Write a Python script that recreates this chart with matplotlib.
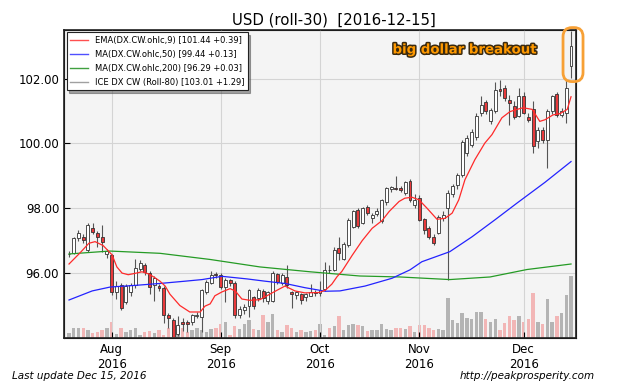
import numpy as np
import pandas as pd
import matplotlib
matplotlib.use("Agg")
import matplotlib.pyplot as plt
from matplotlib import patheffects
from matplotlib.patches import FancyBboxPatch
from matplotlib.lines import Line2D
from matplotlib.transforms import IdentityTransform

# trading days shown (Labor Day missing, Thanksgiving traded)
dates = pd.bdate_range("2016-07-19", "2016-12-15")
dates = dates[dates != pd.Timestamp("2016-09-05")]

opens = [96.58, 96.62, 97.08, 97.11, 96.70, 97.40, 97.25, 97.12, 96.58, 96.56,
         95.42, 95.63, 95.10, 95.42, 95.63, 96.12, 96.25, 96.00, 95.63, 95.60,
         95.53, 94.70, 94.55, 94.11, 94.48, 94.48, 94.49, 94.69, 94.65, 95.42,
         95.70, 95.98, 95.94, 95.58, 95.78, 95.68, 94.72, 94.86, 94.98, 95.25,
         95.22, 95.45, 95.14, 95.14, 95.96, 95.70, 95.89, 95.42, 95.32, 95.34,
         95.25, 95.30, 95.42, 95.38, 95.50, 96.10, 96.09, 96.76, 96.43, 96.87,
         97.43, 97.95, 97.55, 98.05, 97.70, 97.82, 97.60, 98.20, 98.58, 98.62,
         98.62, 98.47, 98.85, 98.10, 98.31, 97.66, 97.38, 97.12, 97.25, 97.69,
         98.00, 98.44, 98.72, 99.03, 99.70, 99.96, 100.20, 100.94, 101.27, 100.70,
         100.99, 101.68, 101.71, 101.33, 101.14, 100.85, 101.45, 100.82, 101.06, 100.06,
         100.42, 100.09, 100.99, 101.53, 100.89, 100.94, 102.38]
highs = [96.68, 97.12, 97.33, 97.20, 97.55, 97.56, 97.30, 97.48, 96.75, 96.60,
         95.75, 95.70, 95.65, 95.70, 96.42, 96.40, 96.30, 96.05, 95.90, 95.65,
         95.60, 94.78, 94.60, 94.67, 94.62, 94.55, 94.75, 94.80, 95.50, 95.80,
         96.05, 96.02, 96.00, 95.85, 95.82, 95.75, 95.00, 95.05, 95.50, 95.30,
         95.55, 95.50, 95.45, 96.05, 96.00, 96.00, 96.25, 95.45, 95.45, 95.38,
         95.40, 95.65, 95.48, 95.76, 96.33, 96.25, 96.80, 97.12, 96.95, 97.70,
         97.95, 98.00, 98.05, 98.10, 97.85, 98.00, 98.30, 98.65, 98.70, 98.98,
         98.70, 98.85, 98.90, 98.45, 98.40, 97.70, 97.45, 97.20, 97.80, 97.90,
         98.57, 98.75, 99.10, 100.10, 100.25, 100.45, 100.95, 101.45, 101.35, 101.10,
         101.90, 101.97, 101.80, 101.50, 101.30, 101.71, 101.60, 100.95, 101.30, 100.52,
         100.50, 101.05, 101.50, 101.58, 101.10, 101.97, 103.46]
lows = [96.50, 96.58, 96.99, 96.93, 96.65, 97.20, 96.81, 96.66, 96.45, 95.32,
        95.20, 94.86, 95.05, 95.30, 95.55, 96.05, 95.94, 95.35, 95.15, 95.45,
        94.45, 94.30, 94.00, 94.05, 94.20, 94.18, 94.40, 94.60, 94.18, 95.35,
        95.65, 95.85, 95.50, 95.11, 95.60, 94.60, 94.60, 94.75, 94.65, 94.90,
        95.15, 95.10, 95.05, 95.10, 95.65, 95.62, 95.55, 94.92, 95.20, 95.05,
        95.15, 95.28, 95.30, 95.30, 95.45, 96.00, 96.05, 96.40, 96.40, 96.80,
        97.40, 97.40, 97.50, 97.80, 97.55, 97.75, 97.55, 98.10, 98.50, 98.55,
        98.50, 98.40, 98.20, 98.00, 97.60, 97.20, 97.05, 96.86, 97.20, 97.60,
        95.78, 98.35, 98.60, 98.95, 99.60, 99.90, 100.10, 100.85, 100.90, 100.60,
        100.95, 101.45, 101.30, 100.58, 100.75, 100.80, 100.90, 100.65, 99.70, 99.85,
        100.00, 99.24, 100.90, 100.80, 100.80, 100.64, 102.02]
closes = [96.60, 97.08, 97.24, 97.02, 97.48, 97.26, 97.10, 96.97, 96.68, 95.42,
          95.60, 94.91, 95.60, 95.63, 96.15, 96.30, 96.04, 95.56, 95.84, 95.53,
          94.70, 94.60, 94.03, 94.39, 94.42, 94.42, 94.70, 94.72, 95.47, 95.72,
          95.95, 95.95, 95.58, 95.78, 95.68, 94.70, 94.88, 94.96, 95.47, 94.98,
          95.49, 95.22, 95.42, 96.01, 95.71, 95.93, 95.63, 95.35, 95.42, 95.16,
          95.34, 95.42, 95.38, 95.47, 96.09, 96.08, 96.71, 96.61, 96.90, 97.64,
          97.90, 97.45, 98.00, 97.85, 97.80, 97.90, 98.26, 98.62, 98.65, 98.58,
          98.55, 98.80, 98.26, 98.26, 97.64, 97.33, 97.12, 96.94, 97.74, 97.79,
          98.47, 98.69, 99.03, 100.03, 100.17, 100.34, 100.86, 101.20, 100.99, 101.04,
          101.64, 101.61, 101.40, 101.25, 100.83, 101.45, 100.94, 100.73, 99.93, 100.42,
          100.09, 100.99, 101.45, 100.89, 101.00, 101.72, 103.01]
volume = [5, 10.3, 10.3, 10, 7.7, 5, 6, 8.3, 10.3, 16,
          4.3, 9.7, 6, 7.7, 10.3, 2.7, 6, 7, 5, 8.3,
          2.7, 10.3, 16, 9.3, 10.3, 6, 7.7, 10.3, 7.7, 6,
          9.3, 10.3, 14, 16, 2.7, 11.7, 9.3, 14, 17.7, 9.3,
          7.7, 22.7, 16, 23.7, 8.3, 6, 12.7, 10.3, 6, 8.3,
          6, 7, 7.7, 14, 2.7, 10.3, 11.7, 21.7, 7.7, 12.7,
          14.3, 12.7, 11.7, 7, 8.3, 8.3, 14.3, 9.3, 7.7, 10.3,
          10.3, 9.3, 11.7, 6, 12.7, 12.7, 10.3, 8.3, 9.3, 8.3,
          40, 18.3, 15, 25, 20, 19.3, 26, 26, 18.7, 16,
          19.3, 7.7, 15, 21.7, 18.3, 21.7, 16, 19.3, 45, 16,
          13.7, 39.3, 16, 21.7, 25, 42.7, 61.7]

# indicator lines (bar index, value)
ema_idx = [0, 2.3, 4.2, 5.5, 7.2, 9.1, 10.1, 11.2, 12.5, 13.9, 15.4, 16.9, 18.2, 19.2,
           20.3, 21.3, 23.4, 25.5, 27.7, 28.7, 29.8, 30.8, 32.3, 34.0, 35.1, 36.5,
           38.2, 40.3, 42.4, 44.3, 45.6, 47.7, 49.8, 52.8, 54.1, 55.5, 56.6, 57.6,
           59.8, 61.9, 64.0, 66.1, 67.6, 69.7, 70.9, 72.4, 73.9, 75.6, 77.7, 79.4,
           80.9, 82.3, 83.6, 85.7, 87.8, 89.3, 91.4, 93.1, 94.6, 95.9, 97.8, 99.4,
           100.5, 102.2, 103.7, 105.2, 106]
ema_val = [96.28, 96.62, 96.92, 96.97, 96.85, 96.56, 96.19, 96.00, 95.95, 95.99, 96.04,
           95.97, 95.85, 95.75, 95.60, 95.35, 95.00, 94.80, 94.80, 94.98, 95.05, 95.30,
           95.42, 95.52, 95.45, 95.20, 95.16, 95.18, 95.35, 95.50, 95.60, 95.45, 95.39,
           95.40, 95.47, 95.66, 95.89, 96.05, 96.55, 97.00, 97.38, 97.62, 97.90, 98.21,
           98.31, 98.34, 98.26, 98.00, 97.66, 97.69, 97.85, 98.26, 98.88, 99.50, 100.01,
           100.27, 100.79, 100.98, 101.05, 101.10, 101.05, 100.68, 100.73, 100.88,
           100.92, 101.05, 101.44]
ma50_idx = [0, 4.9, 8.7, 13.9, 19.2, 24.5, 28.1, 32.3, 37.6, 41.4, 45.6, 49.8, 54.1,
            57.2, 62.5, 68.2, 72.0, 74.5, 80.4, 85.1, 90.0, 94.6, 100.5, 106]
ma50_val = [95.17, 95.45, 95.57, 95.62, 95.68, 95.75, 95.80, 95.90, 95.82, 95.75, 95.68,
            95.55, 95.44, 95.45, 95.60, 95.84, 96.10, 96.35, 96.66, 97.12, 97.65, 98.16,
            98.80, 99.44]
ma200_idx = [0, 8.6, 19.2, 29.8, 40.3, 50.9, 61.4, 69.9, 80.4, 88.9, 96.7, 106]
ma200_val = [96.59, 96.68, 96.61, 96.42, 96.19, 96.04, 95.91, 95.88, 95.80, 95.88,
             96.11, 96.28]

legend_labels = ["EMA(DX.CW.ohlc,9) [101.44 +0.39]",
                 "MA(DX.CW.ohlc,50) [99.44 +0.13]",
                 "MA(DX.CW.ohlc,200) [96.29 +0.03]",
                 "ICE DX CW (Roll-80) [103.01 +1.29]"]

o = np.array(opens)
h = np.array(highs)
l = np.array(lows)
c = np.array(closes)
x = np.arange(len(dates))
up = c >= o

fig = plt.figure(figsize=(6.4, 3.84), dpi=100)
ax = fig.add_axes([0.1, 0.12, 0.8, 0.802])
vol = ax.twinx()
ax.set_zorder(2)
vol.set_zorder(1)
ax.patch.set_visible(False)
vol.patch.set_visible(True)
vol.patch.set_facecolor("#f4f4f4")

# volume at the bottom
vol.bar(x, volume, width=0.72, color=np.where(up, "#b4b4b4", "#f2b6b6"), lw=0)
vol.set_ylim(0, max(volume) * 5)
vol.set_yticks([])

ax.grid(True, color="#d4d4d4", lw=0.8)
ax.set_axisbelow(True)

# candles
ax.vlines(x, l, h, color="#555555", lw=0.8, zorder=3)
body_h = np.maximum(np.abs(c - o), 0.02)
ax.bar(x, body_h, bottom=np.minimum(o, c), width=0.62,
       color=np.where(up, "white", "#e8393b"), edgecolor="#333333", lw=0.6, zorder=4)

ax.plot(ma200_idx, ma200_val, color="#259b25", lw=0.9, zorder=5)
ax.plot(ma50_idx, ma50_val, color="#2323ff", lw=0.9, zorder=5)
ax.plot(ema_idx, ema_val, color="#ff2a2a", lw=0.9, zorder=5)

ax.set_xlim(-1.06, 107.05)
ax.set_ylim(94.0, 103.5)
ax.set_yticks([96, 98, 100, 102])
ax.yaxis.set_major_formatter(plt.FormatStrFormatter("%.2f"))

month_pos = [i for i in range(1, len(dates)) if dates[i].month != dates[i - 1].month]
ax.set_xticks(month_pos)
ax.set_xticklabels([dates[i].strftime("%b\n%Y") for i in month_pos])
ax.tick_params(labelsize=8.5, direction="in", length=4)
for sp in ax.spines.values():
    sp.set_linewidth(1.2)
    sp.set_color("#222222")

ax.set_title("USD (roll-30)  [2016-12-15]", fontsize=10.7, pad=4, x=0.527)

handles = [Line2D([], [], color="#ff5050", lw=1),
           Line2D([], [], color="#5050ff", lw=1),
           Line2D([], [], color="#40a040", lw=1),
           Line2D([], [], color="#a0a0a0", lw=1)]
leg = ax.legend(handles, legend_labels, loc="upper left", fontsize=6,
                fancybox=False, shadow=True, borderaxespad=0.3,
                handlelength=2.2, labelspacing=0.6)
leg.get_frame().set_edgecolor("#222222")
leg.get_frame().set_linewidth(0.8)

ax.text(0.783, 0.935, "big dollar breakout", transform=ax.transAxes,
        ha="center", va="center", fontsize=9.6, fontweight="bold", color="#ff9900",
        path_effects=[patheffects.withStroke(linewidth=2.2, foreground="#3a2a10")],
        zorder=6)

# orange ring round the last candle
cx, cy = ax.transData.transform((x[-1], (h[-1] + l[-1]) / 2))
ring = FancyBboxPatch((cx - 8, cy - 27), 20, 54,
                      boxstyle="round,pad=0,rounding_size=9",
                      transform=IdentityTransform(), ec="#f7a035", fc="none",
                      lw=2, clip_on=False, zorder=10)
fig.add_artist(ring)

fig.text(0.019, 0.022, "Last update Dec 15, 2016", style="italic", fontsize=7.5,
         va="center")
fig.text(0.93, 0.022, "http://peakprosperity.com", style="italic", fontsize=7.5,
         va="center", ha="right")

fig.savefig("out.png", dpi=100)
